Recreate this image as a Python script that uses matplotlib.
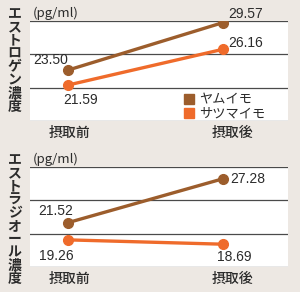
import matplotlib.pyplot as plt
import numpy as np
from matplotlib.patches import Patch

plt.rcParams['font.family'] = ['Noto Sans CJK JP', 'DejaVu Sans']

stages = ['摂取前', '摂取後']
series = ['ヤムイモ', 'サツマイモ']
estrogen_yam = [23.50, 29.57]
estrogen_sweet = [21.59, 26.16]
estradiol_yam = [21.52, 27.28]
estradiol_sweet = [19.26, 18.69]
ylabels = ['エストロゲン濃度', 'エストラジオール濃度']

brown = '#9c5d2c'
orange = '#ef6b2b'
bg = '#ede8e3'
ink = '#2b2b2b'

fig = plt.figure(figsize=(3.0, 2.92), dpi=100, facecolor=bg)
W, H = 300, 292


def make_ax(top, bottom):
    return fig.add_axes([30 / W, 1 - bottom / H, 258 / W, (bottom - top) / H])


# label offsets in pixels: (dx, dy, ha)
panels = [
    (make_ax(21, 121), estrogen_yam, estrogen_sweet, (17.0, 29.77), ylabels[0],
     [(-17, 10, 'center'), (5, 9, 'left')],
     [(13, -15, 'center'), (5, 6, 'left')]),
    (make_ax(167, 267), estradiol_yam, estradiol_sweet, (15.7, 28.82), ylabels[1],
     [(-12, 12, 'center'), (7, 0, 'left')],
     [(-12, -16, 'center'), (11, -13, 'center')]),
]

for ax, yam, sweet, ylim, ylab, off_yam, off_sweet in panels:
    ax.set_facecolor('white')
    ax.set_xlim(-0.245, 1.419)
    ax.set_ylim(*ylim)
    for v in np.linspace(ylim[0], ylim[1], 4):
        ax.axhline(v, color='#4a4a4a', lw=0.9, zorder=1)
    for s in ax.spines.values():
        s.set_visible(False)
    ax.set_xticks([])
    ax.set_yticks([])
    ax.plot([0, 1], sweet, color=orange, lw=2.4, marker='o', ms=7, zorder=3)
    ax.plot([0, 1], yam, color=brown, lw=2.4, marker='o', ms=7, zorder=4)
    for vals, offs in [(yam, off_yam), (sweet, off_sweet)]:
        for x, v, (dx, dy, ha) in zip([0, 1], vals, offs):
            ax.annotate(f'{v:.2f}', (x, v), xytext=(dx, dy),
                        textcoords='offset pixels', ha=ha, va='center',
                        fontsize=10, family='Liberation Sans', color=ink,
                        zorder=5, annotation_clip=False)
    ax.text(0.01, -0.12, stages[0], transform=ax.get_xaxis_transform(),
            ha='center', va='center', fontsize=10, color=ink, clip_on=False,
            fontweight='medium')
    ax.text(1.06, -0.12, stages[1], transform=ax.get_xaxis_transform(),
            ha='center', va='center', fontsize=10, color=ink, clip_on=False,
            fontweight='medium')
    ax.text(0.01, 1.08, '(pg/ml)', transform=ax.transAxes, ha='left',
            va='center', fontsize=9.5, color=ink)
    ax.text(-0.06, 1.14, '\n'.join(ylab), transform=ax.transAxes, ha='center',
            va='top', fontsize=10, color=ink, linespacing=0.93,
            fontweight='bold')

ax0 = panels[0][0]
ax0.legend([Patch(color=brown), Patch(color=orange)], series,
           loc='lower left', bbox_to_anchor=(0.56, -0.09), frameon=False,
           fontsize=9.5, handlelength=0.8, handleheight=0.8, handletextpad=0.4,
           labelspacing=0.12, borderpad=0.2, labelcolor=ink)

fig.savefig('out.png', dpi=100, facecolor=bg)
